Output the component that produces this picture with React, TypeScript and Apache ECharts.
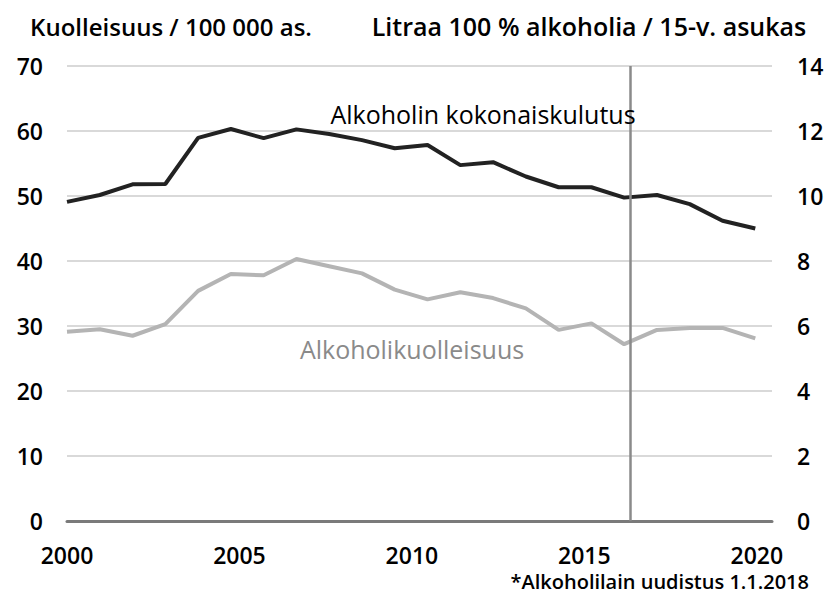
import { useEffect, useRef } from 'react';
import * as echarts from 'echarts';

const years = [2000, 2001, 2002, 2003, 2004, 2005, 2006, 2007, 2008, 2009, 2010, 2011, 2012, 2013, 2014, 2015, 2016, 2017, 2018, 2019, 2020, 2021];
const consumption = [9.82, 10.03, 10.36, 10.37, 11.79, 12.06, 11.78, 12.05, 11.91, 11.72, 11.47, 11.57, 10.95, 11.04, 10.6, 10.27, 10.27, 9.95, 10.03, 9.75, 9.24, 9.0];
const mortality = [29.1, 29.5, 28.5, 30.3, 35.4, 38.0, 37.8, 40.3, 39.2, 38.1, 35.6, 34.1, 35.2, 34.3, 32.7, 29.4, 30.4, 27.2, 29.4, 29.7, 29.7, 28.1];
const reformMarker = 2017.2;

const leftTitle = 'Kuolleisuus / 100 000 as.';
const rightTitle = 'Litraa 100 % alkoholia / 15-v. asukas';
const consumptionLabel = 'Alkoholin kokonaiskulutus';
const mortalityLabel = 'Alkoholikuolleisuus';
const footnote = '*Alkoholilain uudistus 1.1.2018';

const FONT = "'Open Sans', 'Noto Sans', sans-serif";

export default function App() {
  const ref = useRef<HTMLDivElement>(null);
  useEffect(() => {
    document.body.style.margin = '0';
    const chart = echarts.init(ref.current!, null, { renderer: 'svg' });
    const tickLabel = { color: '#000', fontSize: 23, fontWeight: 600, fontFamily: FONT };
    chart.setOption({
      animation: false,
      backgroundColor: '#fff',
      grid: { left: 67, right: 55, top: 66, bottom: 72, containLabel: false },
      xAxis: [
        { type: 'value', min: 2000, max: 2021.51, show: false, position: 'bottom' },
        {
          type: 'value', min: 2000, max: 2020.44, interval: 5, position: 'bottom',
          axisLine: { show: true, onZero: false, lineStyle: { color: '#7a7a7a', width: 3 } },
          axisTick: { show: false },
          splitLine: { show: false },
          axisLabel: { ...tickLabel, margin: 22, formatter: (v: number) => (v % 5 === 0 ? String(v) : '') },
        },
      ],
      yAxis: [
        {
          type: 'value', min: 0, max: 70, interval: 10, position: 'left',
          axisLine: { show: false }, axisTick: { show: false },
          splitLine: { show: true, lineStyle: { color: '#d9d9d9', width: 2 } },
          axisLabel: { ...tickLabel, margin: 24 },
        },
        {
          type: 'value', min: 0, max: 14, interval: 2, position: 'right',
          axisLine: { show: false }, axisTick: { show: false },
          splitLine: { show: false },
          axisLabel: { ...tickLabel, margin: 25 },
        },
      ],
      series: [
        {
          name: mortalityLabel, type: 'line', xAxisIndex: 0, yAxisIndex: 0,
          data: years.map((y, i) => [y, mortality[i]]),
          showSymbol: false, lineStyle: { color: '#b4b4b4', width: 4 }, z: 2,
        },
        {
          name: consumptionLabel, type: 'line', xAxisIndex: 0, yAxisIndex: 1,
          data: years.map((y, i) => [y, consumption[i]]),
          showSymbol: false, lineStyle: { color: '#222222', width: 4 }, z: 3,
        },
        {
          name: 'reform', type: 'line', xAxisIndex: 0, yAxisIndex: 0, data: [], z: 5,
          markLine: {
            silent: true, symbol: 'none', label: { show: false },
            lineStyle: { color: '#8a8a8a', width: 2.5, type: 'solid' },
            data: [{ xAxis: reformMarker }],
          },
        },
      ],
      graphic: [
        { type: 'text', x: 171, y: 26, style: { text: leftTitle, textAlign: 'center', textVerticalAlign: 'middle', fill: '#000', font: `600 24px ${FONT}` } },
        { type: 'text', x: 589, y: 26, style: { text: rightTitle, textAlign: 'center', textVerticalAlign: 'middle', fill: '#000', font: `600 25px ${FONT}` } },
        { type: 'text', x: 483, y: 114, z: 10, style: { text: consumptionLabel, textAlign: 'center', textVerticalAlign: 'middle', fill: '#000', font: `400 25px ${FONT}` } },
        { type: 'text', x: 412, y: 349, z: 10, style: { text: mortalityLabel, textAlign: 'center', textVerticalAlign: 'middle', fill: '#8a8a8a', font: `400 25px ${FONT}` } },
        { type: 'text', x: 809, y: 581, style: { text: footnote, textAlign: 'right', textVerticalAlign: 'middle', fill: '#000', font: `600 20px ${FONT}` } },
      ],
    });
    return () => chart.dispose();
  }, []);
  return <div ref={ref} style={{ width: 827, height: 593 }} />;
}
